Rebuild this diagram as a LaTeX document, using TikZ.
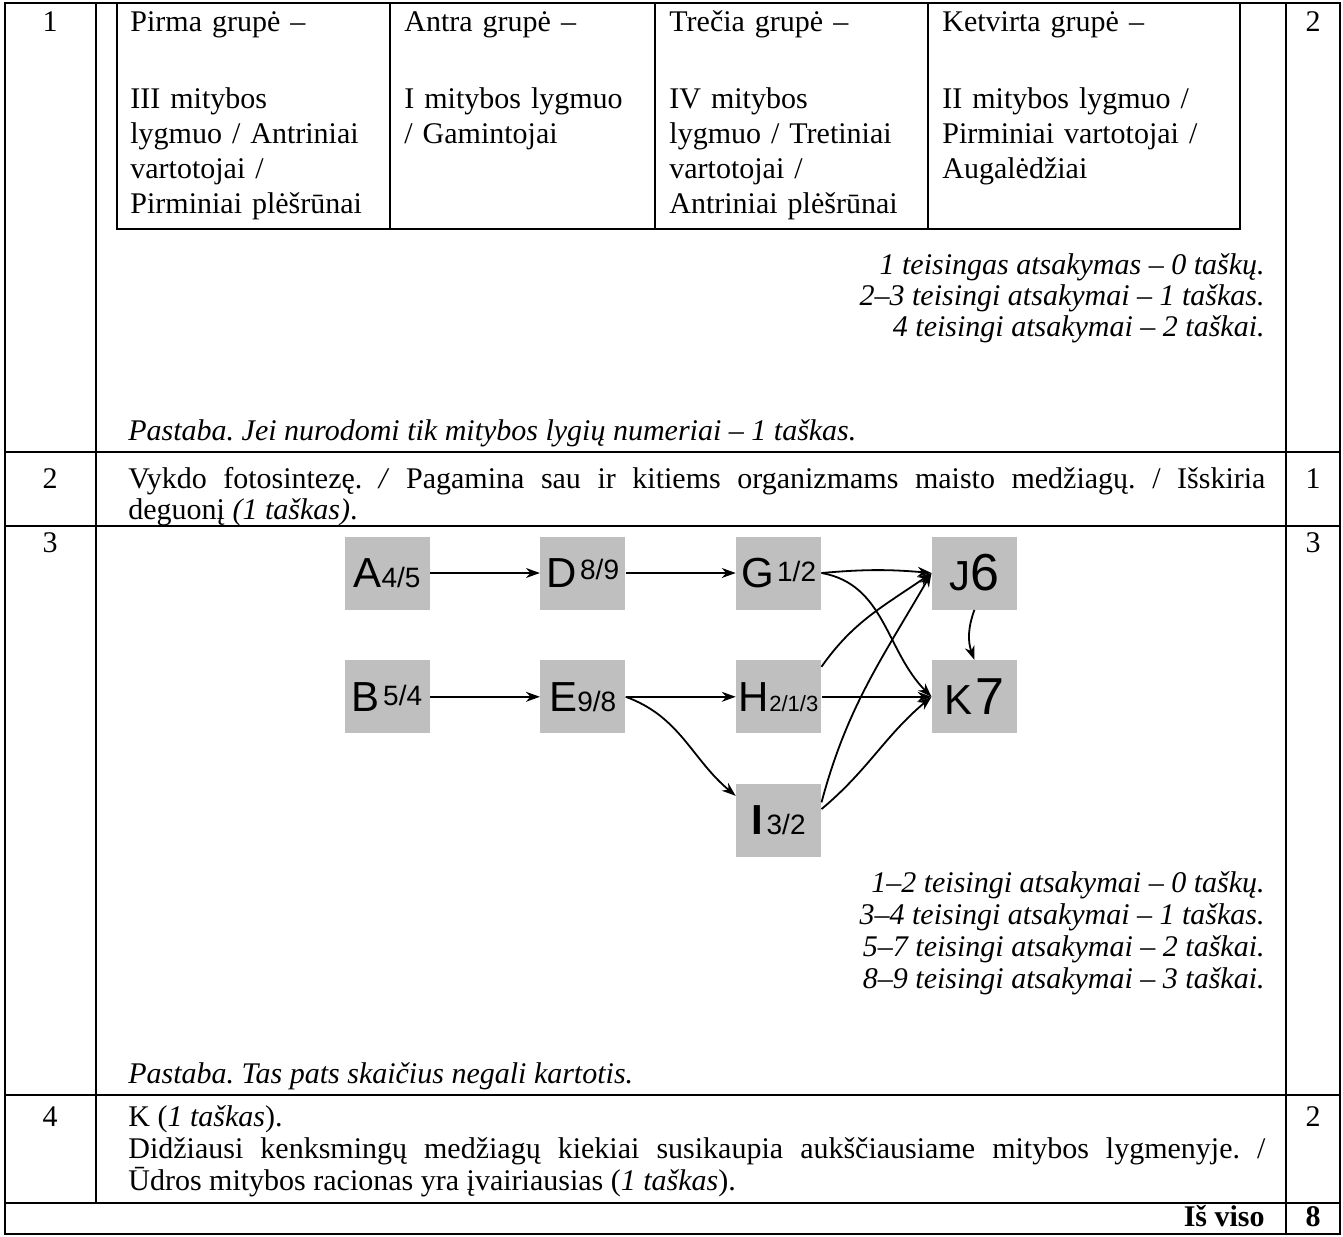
\documentclass[tikz,border=0pt]{standalone}
\usepackage{fontspec}
\setmainfont{Liberation Serif}
\newfontfamily\arialfont{Liberation Sans}
\usetikzlibrary{arrows.meta,positioning}
\frenchspacing

\newcommand{\lettr}[1]{{\fontsize{21}{21}\selectfont #1}}
\newcommand{\numr}[1]{{\fontsize{14}{14}\selectfont #1}}

\tikzset{
  rule/.style={line width=1pt},
  txt/.style={inner sep=0pt, anchor=base west, font=\fontsize{15}{16}\selectfont},
  itxt/.style={txt, font=\fontsize{15}{16}\selectfont\itshape},
  rtxt/.style={itxt, anchor=base east},
  ctxt/.style={txt, anchor=base},
  celltxt/.style={txt, text width=150pt, align=left, font=\fontsize{15}{17.5}\selectfont},
  grbox/.style={fill=black!25, minimum width=42.5pt, minimum height=36.5pt, inner sep=0pt, font=\arialfont},
  arr/.style={-{Stealth[length=7pt,width=5pt]}, line width=0.9pt},
}

\begin{document}
\begin{tikzpicture}[x=0.5pt, y=-0.5pt]
\useasboundingbox (0,0) rectangle (1343,1236);
%Table frame
\draw[rule] (5,3) rectangle (1340,1234);
\foreach \y in {452,526,1095,1203}
  \draw[rule] (5,\y) -- (1340,\y);
\draw[rule] (96,3) -- (96,1203);
\draw[rule] (1286,3) -- (1286,1234);
% Inner table of row 1
\draw[rule] (117,3) rectangle (1240,229);
\foreach \x in {390,655,928}
  \draw[rule] (\x,3) -- (\x,229);

% Question numbers and points
\foreach \qn/\pts/\y [count=\i] in {1/2/32, 2/1/488, 3/3/552, 4/2/1126}{
  \node[ctxt] (q\i) at (50,\y) {\qn};
  \node[ctxt] (p\i) at (1313,\y) {\pts};
}

% Row 1: groups
\node[celltxt] (g1) at (130,32) {Pirma grupė –\\[21pt]III mitybos\\lygmuo / Antriniai\\vartotojai /\\Pirminiai plėšrūnai};
\node[celltxt] (g2) at (404,32) {Antra grupė –\\[21pt]I mitybos lygmuo\\/ Gamintojai};
\node[celltxt] (g3) at (669,32) {Trečia grupė –\\[21pt]IV mitybos\\lygmuo / Tretiniai\\vartotojai /\\Antriniai plėšrūnai};
\node[celltxt] (g4) at (942,32) {Ketvirta grupė –\\[21pt]II mitybos lygmuo /\\Pirminiai vartotojai /\\Augalėdžiai};
\foreach \lbl/\y [count=\i] in {{1 teisingas atsakymas – 0 taškų.}/274, {2–3 teisingi atsakymai – 1 taškas.}/305, {4 teisingi atsakymai – 2 taškai.}/336}
  \node[rtxt] (sa\i) at (1265,\y) {\lbl};
\node[itxt] (note1) at (128,440) {Pastaba. Jei nurodomi tik mitybos lygių numeriai – 1 taškas.};

% Row 2
\node[txt] (ans2a) at (128,488) {\makebox[568.5pt][s]{Vykdo fotosintezę. \textit{/} Pagamina sau ir kitiems organizmams maisto medžiagų. / Išskiria}};
\node[txt] (ans2b) at (128,519) {deguonį \textit{(1 taškas)}.};

% Row 3: food web
\node[grbox] (A) at (387,573) {\lettr{A}\numr{4/5}};
\node[grbox, right=55pt of A] (D) {\lettr{D}\,\raisebox{4pt}{\numr{8/9}}};
\node[grbox, right=55pt of D] (G) {\lettr{G}\,\raisebox{3pt}{\numr{1/2}}};
\node[grbox, right=55pt of G] (J) {\lettr{J}{\fontsize{26}{26}\selectfont 6}};
\node[grbox, below=25pt of A] (B) {\lettr{B}\,\raisebox{3pt}{\numr{5/4}}};
\node[grbox, below=25pt of D] (E) {\lettr{E}\numr{9/8}};
\node[grbox, below=25pt of G] (H) {\lettr{H}{\fontsize{11}{11}\selectfont 2/1/3}};
\node[grbox, below=25pt of J] (K) {\lettr{K}\,{\fontsize{26}{26}\selectfont 7}};
\node[grbox, below=25pt of H] (I) {{\bfseries\lettr{I}}\,\numr{3/2}};

\draw[arr] (A) -- (D);
\draw[arr] (D) -- (G);
\draw[arr] (B) -- (E);
\draw[arr] (E) -- (H);
\draw[arr] (H) -- (K);
\draw[arr] (G.east) to[bend left=5] (J.west);
\draw[arr] (G.east) to[out=-10,in=135] (K.west);
\draw[arr] (J.south) to[bend right=20] (K.north);
\draw[arr] (E.east) to[out=-20,in=140] (I.150);
\draw[arr] (H.35) to[out=55,in=215] (J.west);
\draw[arr] (I.23) to[out=75,in=240] (J.west);
\draw[arr] (I.15) to[out=40,in=220] (K.west);

\foreach \lbl/\y [count=\i] in {{1–2 teisingi atsakymai – 0 taškų.}/892, {3–4 teisingi atsakymai – 1 taškas.}/924, {5–7 teisingi atsakymai – 2 taškai.}/956, {8–9 teisingi atsakymai – 3 taškai.}/988}
  \node[rtxt] (sb\i) at (1265,\y) {\lbl};
\node[itxt] (note3) at (128,1083) {Pastaba. Tas pats skaičius negali kartotis.};

% Row 4
\node[txt] (ans4a) at (128,1126) {K (\textit{1 taškas}).};
\node[txt] (ans4b) at (128,1158) {\makebox[568.5pt][s]{Didžiausi kenksmingų medžiagų kiekiai susikaupia aukščiausiame mitybos lygmenyje. /}};
\node[txt] (ans4c) at (128,1190) {Ūdros mitybos racionas yra įvairiausias (\textit{1 taškas}).};

% Total
\node[txt, anchor=base east, font=\fontsize{15}{16}\selectfont\bfseries] (tot) at (1265,1226) {Iš viso};
\node[ctxt, font=\fontsize{15}{16}\selectfont\bfseries] (totp) at (1313,1226) {8};
\end{tikzpicture}
\end{document}
